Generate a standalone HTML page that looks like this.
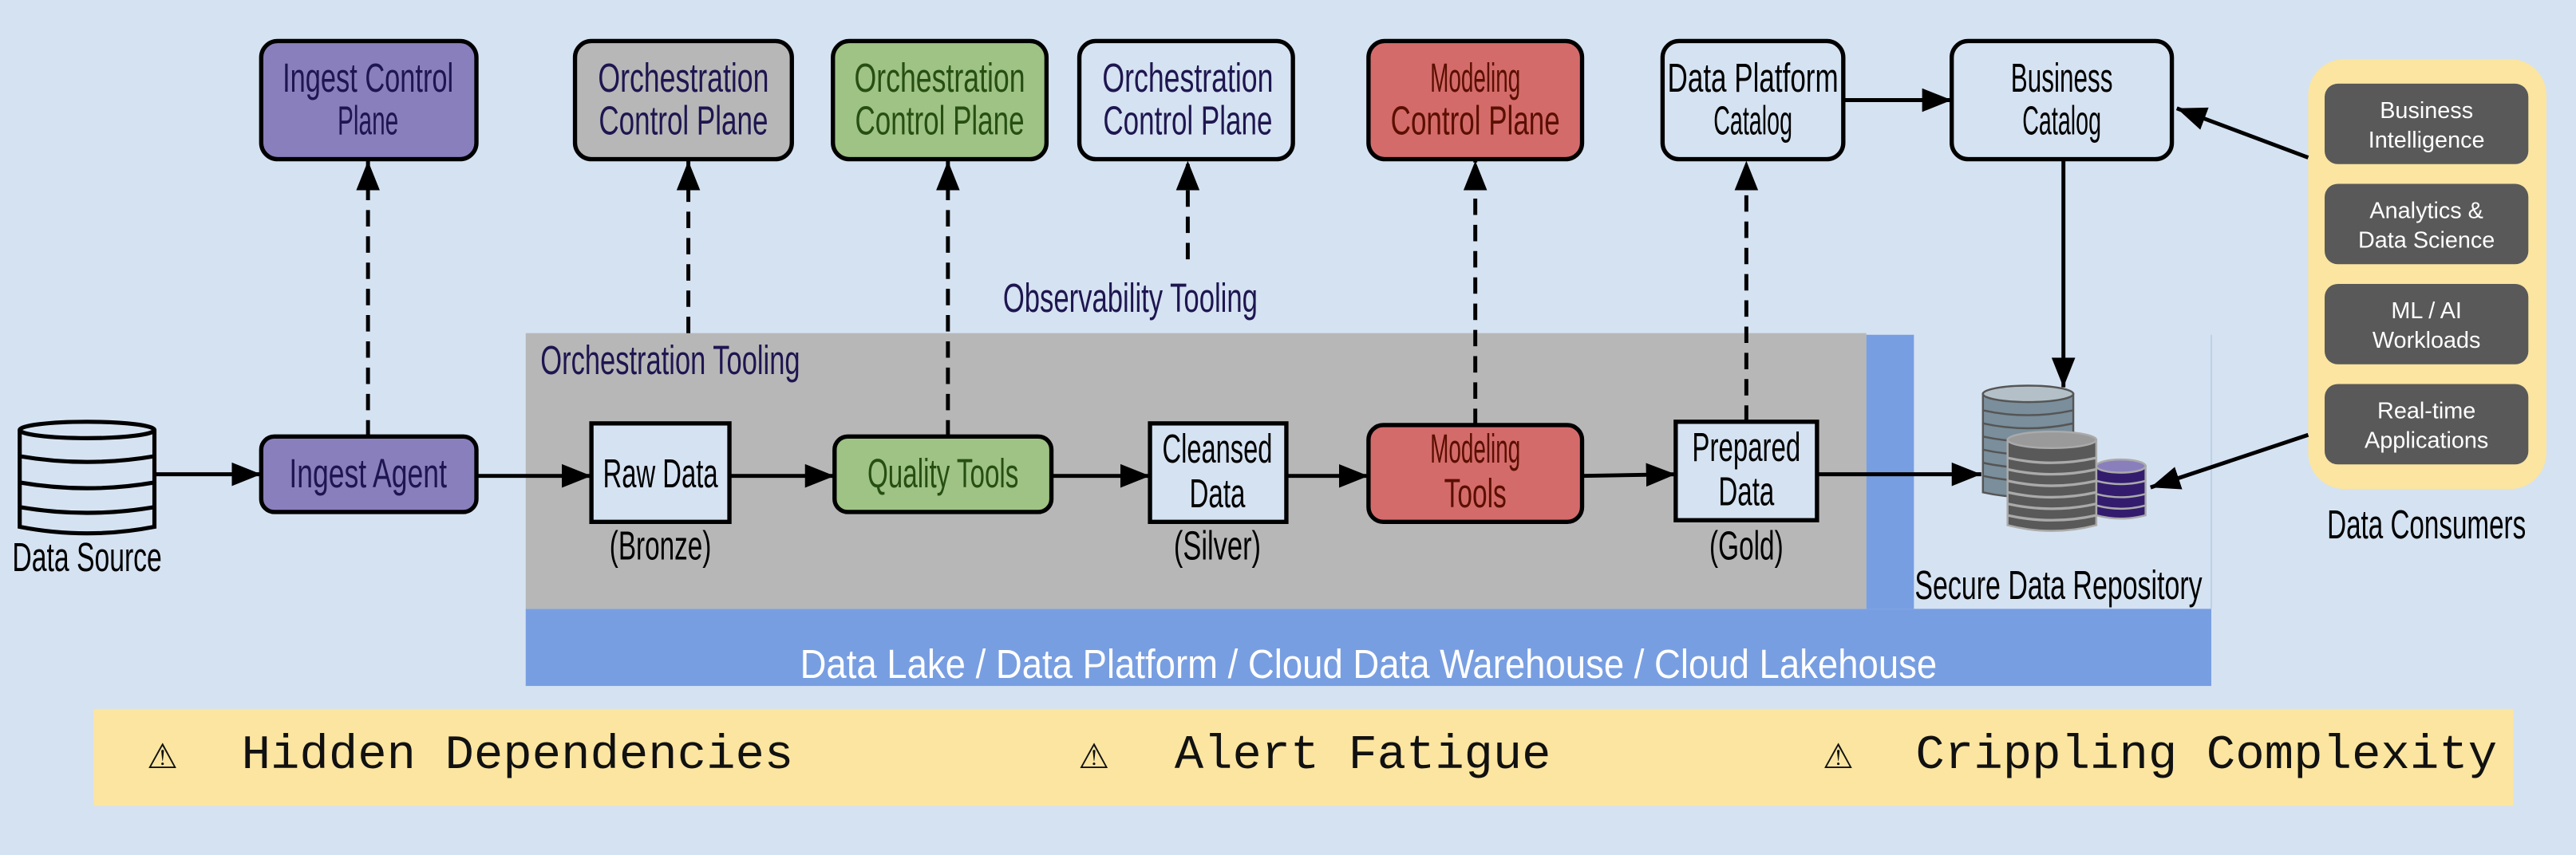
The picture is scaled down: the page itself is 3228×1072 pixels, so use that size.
<!DOCTYPE html>
<html><head><meta charset="utf-8"><style>
html,body{margin:0;padding:0;background:#d5e2f1;}
svg{display:block;}
.t{font-family:"Liberation Sans Narrow","Liberation Sans",sans-serif;font-size:25px;text-anchor:middle;}
.c{font-family:"Liberation Sans",sans-serif;font-size:14px;fill:#fff;text-anchor:middle;}
.m{font-family:"Liberation Mono",monospace;font-size:29.5px;fill:#111;}
</style></head><body>
<svg width="3228" height="1072" viewBox="0 0 1568 521" preserveAspectRatio="none" xmlns="http://www.w3.org/2000/svg">
<defs>
<marker id="b" viewBox="0 0 10 10" markerWidth="18" markerHeight="18" refX="10" refY="5" orient="auto" markerUnits="userSpaceOnUse"><path d="M0,1 L10,5 L0,9z" fill="#000"/></marker>
</defs>
<rect width="1568" height="521" fill="#d5e2f1"/>
<rect x="320" y="371" width="1026" height="47" fill="#789ee2"/>
<rect x="1136" y="204" width="29" height="167" fill="#789ee2"/>
<rect x="320" y="203" width="816" height="168" fill="#b7b7b7"/>
<line x1="1346" y1="204" x2="1346" y2="371" stroke="#b9cde8" stroke-width="0.8"/>
<text class="t" x="833" y="413" font-size="34" fill="#fff" textLength="692" lengthAdjust="spacingAndGlyphs">Data Lake / Data Platform / Cloud Data Warehouse / Cloud Lakehouse</text>
<text class="t" x="408" y="228" fill="#1e1650" textLength="158" lengthAdjust="spacingAndGlyphs">Orchestration Tooling</text>
<rect x="57" y="432" width="1473" height="59" fill="#fbe5a0"/>
<text class="m" x="90" y="468" font-size="22">⚠</text><text class="m" x="147" y="468" textLength="336" lengthAdjust="spacingAndGlyphs">Hidden Dependencies</text>
<text class="m" x="657" y="468" font-size="22">⚠</text><text class="m" x="715" y="468" textLength="229" lengthAdjust="spacingAndGlyphs">Alert Fatigue</text>
<text class="m" x="1110" y="468" font-size="22">⚠</text><text class="m" x="1166" y="468" textLength="354" lengthAdjust="spacingAndGlyphs">Crippling Complexity</text>
<g stroke="#000" stroke-width="2.6">
<rect x="159" y="25" width="131" height="72" rx="10" fill="#8a7fbd"/>
<rect x="350" y="25" width="132" height="72" rx="10" fill="#b7b7b7"/>
<rect x="507" y="25" width="130" height="72" rx="10" fill="#9ec384"/>
<rect x="657" y="25" width="130" height="72" rx="10" fill="#d5e2f1"/>
<rect x="833" y="25" width="130" height="72" rx="10" fill="#d46b6b"/>
<rect x="1012" y="25" width="110" height="72" rx="10" fill="#d5e2f1"/>
<rect x="1188" y="25" width="134" height="72" rx="10" fill="#d5e2f1"/>
<rect x="159" y="266" width="131" height="46" rx="8" fill="#8a7fbd"/>
<rect x="360" y="258" width="84" height="60" fill="#d5e2f1"/>
<rect x="508" y="266" width="132" height="46" rx="8" fill="#9ec384"/>
<rect x="700" y="258" width="83" height="60" fill="#d5e2f1"/>
<rect x="833" y="259" width="130" height="59" rx="9" fill="#d46b6b"/>
<rect x="1020" y="257" width="86" height="60" fill="#d5e2f1"/>
</g>
<text class="t" x="224" y="56" fill="#1e1650" textLength="104" lengthAdjust="spacingAndGlyphs">Ingest Control</text>
<text class="t" x="224" y="82" fill="#1e1650" textLength="37" lengthAdjust="spacingAndGlyphs">Plane</text>
<text class="t" x="416" y="56" fill="#1e1650" textLength="104" lengthAdjust="spacingAndGlyphs">Orchestration</text>
<text class="t" x="416" y="82" fill="#1e1650" textLength="103" lengthAdjust="spacingAndGlyphs">Control Plane</text>
<text class="t" x="572" y="56" fill="#274e13" textLength="104" lengthAdjust="spacingAndGlyphs">Orchestration</text>
<text class="t" x="572" y="82" fill="#274e13" textLength="103" lengthAdjust="spacingAndGlyphs">Control Plane</text>
<text class="t" x="723" y="56" fill="#1e1650" textLength="104" lengthAdjust="spacingAndGlyphs">Orchestration</text>
<text class="t" x="723" y="82" fill="#1e1650" textLength="103" lengthAdjust="spacingAndGlyphs">Control Plane</text>
<text class="t" x="898" y="56" fill="#5b0f00" textLength="55" lengthAdjust="spacingAndGlyphs">Modeling</text>
<text class="t" x="898" y="82" fill="#5b0f00" textLength="103" lengthAdjust="spacingAndGlyphs">Control Plane</text>
<text class="t" x="1067" y="56" fill="#000" textLength="104" lengthAdjust="spacingAndGlyphs">Data Platform</text>
<text class="t" x="1067" y="82" fill="#000" textLength="48" lengthAdjust="spacingAndGlyphs">Catalog</text>
<text class="t" x="1255" y="56" fill="#000" textLength="62" lengthAdjust="spacingAndGlyphs">Business</text>
<text class="t" x="1255" y="82" fill="#000" textLength="48" lengthAdjust="spacingAndGlyphs">Catalog</text>
<text class="t" x="224" y="297" fill="#1e1650" textLength="96" lengthAdjust="spacingAndGlyphs">Ingest Agent</text>
<text class="t" x="402" y="297" fill="#000" textLength="70" lengthAdjust="spacingAndGlyphs">Raw Data</text>
<text class="t" x="574" y="297" fill="#274e13" textLength="92" lengthAdjust="spacingAndGlyphs">Quality Tools</text>
<text class="t" x="741" y="282" fill="#000" textLength="67" lengthAdjust="spacingAndGlyphs">Cleansed</text>
<text class="t" x="741" y="309" fill="#000" textLength="34" lengthAdjust="spacingAndGlyphs">Data</text>
<text class="t" x="898" y="282" fill="#5b0f00" textLength="55" lengthAdjust="spacingAndGlyphs">Modeling</text>
<text class="t" x="898" y="309" fill="#5b0f00" textLength="38" lengthAdjust="spacingAndGlyphs">Tools</text>
<text class="t" x="1063" y="281" fill="#000" textLength="66" lengthAdjust="spacingAndGlyphs">Prepared</text>
<text class="t" x="1063" y="308" fill="#000" textLength="34" lengthAdjust="spacingAndGlyphs">Data</text>
<text class="t" x="402" y="341" fill="#000" textLength="62" lengthAdjust="spacingAndGlyphs">(Bronze)</text>
<text class="t" x="741" y="341" fill="#000" textLength="53" lengthAdjust="spacingAndGlyphs">(Silver)</text>
<text class="t" x="1063" y="341" fill="#000" textLength="45" lengthAdjust="spacingAndGlyphs">(Gold)</text>
<text class="t" x="53" y="348" fill="#000" textLength="91" lengthAdjust="spacingAndGlyphs">Data Source</text>
<text class="t" x="688" y="190" fill="#1e1650" textLength="155" lengthAdjust="spacingAndGlyphs">Observability Tooling</text>
<text class="t" x="1253" y="365" fill="#000" textLength="175" lengthAdjust="spacingAndGlyphs">Secure Data Repository</text>
<text class="t" x="1477" y="328" fill="#000" textLength="121" lengthAdjust="spacingAndGlyphs">Data Consumers</text>
<rect x="1405" y="36" width="145" height="262" rx="22" fill="#fbe5a0"/>
<g fill="#595959">
<rect x="1415" y="51" width="124" height="49" rx="8"/>
<rect x="1415" y="112" width="124" height="49" rx="8"/>
<rect x="1415" y="173" width="124" height="49" rx="8"/>
<rect x="1415" y="234" width="124" height="49" rx="8"/>
</g>
<text class="c" x="1477" y="72">Business</text><text class="c" x="1477" y="90">Intelligence</text>
<text class="c" x="1477" y="133">Analytics &amp;</text><text class="c" x="1477" y="151">Data Science</text>
<text class="c" x="1477" y="194">ML / AI</text><text class="c" x="1477" y="212">Workloads</text>
<text class="c" x="1477" y="255">Real-time</text><text class="c" x="1477" y="273">Applications</text>
<g fill="#d5e2f1" stroke="#000" stroke-width="2.5">
<path d="M12,262 L12,321 Q53,329 94,321 L94,262"/>
<ellipse cx="53" cy="262" rx="41" ry="5"/>
<path d="M12,278 Q53,285 94,278 M12,294 Q53,301 94,294 M12,309 Q53,316 94,309" fill="none"/>
</g>
<g stroke="#555" stroke-width="1.2">
<path d="M1207,240 L1207,300 Q1234,306 1262,300 L1262,240z" fill="#7a8e9b"/>
<ellipse cx="1234.5" cy="240" rx="27.5" ry="5" fill="#b4c0c7"/>
<path d="M1207,250 Q1234,256 1262,250 M1207,258 Q1234,264 1262,258 M1207,266 Q1234,272 1262,266 M1207,274 Q1234,280 1262,274 M1207,282 Q1234,288 1262,282 M1207,290 Q1234,296 1262,290" fill="none"/>
</g>
<g stroke="#aaa" stroke-width="1.2">
<path d="M1276,284 L1276,314 Q1291,318 1306,314 L1306,284z" fill="#331c6e"/>
<ellipse cx="1291" cy="284" rx="15" ry="4" fill="#8a7fbd"/>
<path d="M1276,293 Q1291,297 1306,293 M1276,301 Q1291,305 1306,301 M1276,308 Q1291,312 1306,308" fill="none"/>
<path d="M1222,268 L1222,320 Q1249,327 1276,320 L1276,268z" fill="#595959"/>
<ellipse cx="1249" cy="268" rx="27" ry="5" fill="#9a9a9a"/>
<path d="M1222,279 Q1249,285 1276,279 M1222,286 Q1249,292 1276,286 M1222,293 Q1249,299 1276,293 M1222,300 Q1249,306 1276,300 M1222,307 Q1249,313 1276,307 M1222,314 Q1249,320 1276,314" fill="none" stroke-width="1.6"/>
</g>
<g stroke="#000" stroke-width="2.4" fill="none" marker-end="url(#b)">
<line x1="95" y1="289" x2="159" y2="289"/>
<line x1="290" y1="290" x2="360" y2="290"/>
<line x1="444" y1="290" x2="508" y2="290"/>
<line x1="640" y1="290" x2="700" y2="290"/>
<line x1="783" y1="290" x2="833" y2="290"/>
<line x1="963" y1="290" x2="1020" y2="289"/>
<line x1="1106" y1="289" x2="1206" y2="289"/>
<line x1="1122" y1="61" x2="1188" y2="61"/>
<line x1="1256" y1="97" x2="1256" y2="236"/>
<line x1="1405" y1="96" x2="1325" y2="66"/>
<line x1="1405" y1="265" x2="1309" y2="297"/>
</g>
<g stroke="#000" stroke-width="2.4" fill="none" stroke-dasharray="10,6" marker-end="url(#b)">
<line x1="224" y1="266" x2="224" y2="98"/>
<line x1="419" y1="203" x2="419" y2="98"/>
<line x1="577" y1="266" x2="577" y2="98"/>
<line x1="723" y1="158" x2="723" y2="98"/>
<line x1="898" y1="259" x2="898" y2="98"/>
<line x1="1063" y1="257" x2="1063" y2="98"/>
</g>
</svg>
</body></html>
